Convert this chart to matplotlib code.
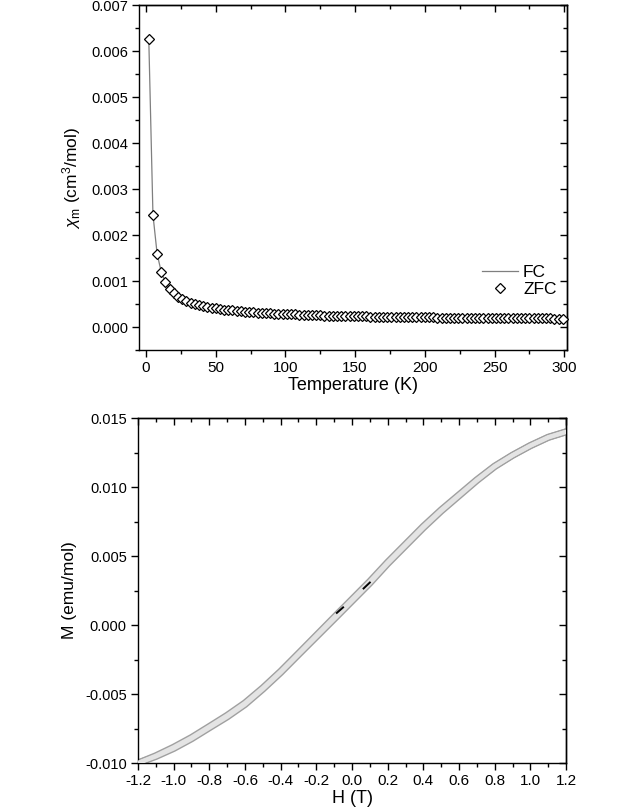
import matplotlib
matplotlib.use("Agg")
import matplotlib.pyplot as plt
import numpy as np
from matplotlib.ticker import MultipleLocator, FormatStrFormatter

plt.rcParams['font.family'] = ['Liberation Sans', 'DejaVu Sans']
plt.rcParams['mathtext.fontset'] = 'custom'
plt.rcParams['mathtext.rm'] = 'Liberation Sans'
plt.rcParams['mathtext.it'] = 'Liberation Sans:italic'

# susceptibility vs temperature
temp = [2, 5, 8, 11, 14, 17, 20, 23, 26, 29, 32, 35, 38, 41, 44, 47, 50, 53,
        56, 59, 62, 65, 68, 71, 74, 77, 80, 83, 86, 89, 92, 95, 98, 101, 104,
        107, 110, 113, 116, 119, 122, 125, 128, 131, 134, 137, 140, 143, 146,
        149, 152, 155, 158, 161, 164, 167, 170, 173, 176, 179, 182, 185, 188,
        191, 194, 197, 200, 203, 206, 209, 212, 215, 218, 221, 224, 227, 230,
        233, 236, 239, 242, 245, 248, 251, 254, 257, 260, 263, 266, 269, 272,
        275, 278, 281, 284, 287, 290, 293, 296, 299]
chi = [0.00627, 0.00244, 0.00159, 0.00119, 0.00097, 0.00083, 0.00073, 0.00066,
       0.00061, 0.00056, 0.00052, 0.00049, 0.00047, 0.00045, 0.00043, 0.00042,
       0.00041, 0.00039, 0.00038, 0.00037, 0.00036, 0.00035, 0.00034, 0.00033,
       0.00033, 0.00032, 0.00031, 0.00031, 0.00030, 0.00030, 0.00029, 0.00029,
       0.00028, 0.00028, 0.000275, 0.000272, 0.000268, 0.000265, 0.000262,
       0.000259, 0.000256, 0.000253, 0.000250, 0.000248, 0.000245, 0.000243,
       0.000241, 0.000239, 0.000237, 0.000235, 0.000233, 0.000231, 0.000229,
       0.000228, 0.000226, 0.000224, 0.000223, 0.000221, 0.000220, 0.000218,
       0.000217, 0.000216, 0.000214, 0.000213, 0.000212, 0.000211, 0.000209,
       0.000208, 0.000207, 0.000206, 0.000205, 0.000204, 0.000203, 0.000202,
       0.000201, 0.000200, 0.000199, 0.000198, 0.000197, 0.000197, 0.000196,
       0.000195, 0.000194, 0.000193, 0.000193, 0.000192, 0.000191, 0.000190,
       0.000190, 0.000189, 0.000188, 0.000188, 0.000187, 0.000186, 0.000186,
       0.000185, 0.000185, 0.000184, 0.000183, 0.000183]

# M(H) loop, two sweep branches
field = [-1.2, -1.1, -1.0, -0.9, -0.8, -0.7, -0.6, -0.5, -0.4, -0.3, -0.2,
         -0.1, 0.0, 0.1, 0.2, 0.3, 0.4, 0.5, 0.6, 0.7, 0.8, 0.9, 1.0, 1.1, 1.2]
m_down = [-0.0100, -0.00947, -0.00885, -0.00815, -0.00735, -0.00654,
          -0.00564, -0.00455, -0.00335, -0.00205, -0.00074, 0.00057, 0.00187,
          0.00317, 0.00456, 0.00586, 0.00716, 0.00835, 0.00944, 0.01053,
          0.01152, 0.01231, 0.01301, 0.01361, 0.0140]
m_up = [-0.0100, -0.00953, -0.00895, -0.00825, -0.00745, -0.00666,
        -0.00576, -0.00465, -0.00345, -0.00215, -0.00086, 0.00043, 0.00173,
        0.00303, 0.00444, 0.00574, 0.00704, 0.00825, 0.00936, 0.01047,
        0.01148, 0.01229, 0.01299, 0.01359, 0.0140]
# short black bits visible between the markers near zero
black_h = [-0.085, -0.05, np.nan, 0.065, 0.10]
black_m = [0.00088, 0.00128, np.nan, 0.00265, 0.00308]

fig = plt.figure(figsize=(6.4, 8.1), dpi=100)
ax1 = fig.add_axes([0.2172, 0.5679, 0.6688, 0.4259])
ax2 = fig.add_axes([0.2156, 0.0580, 0.6688, 0.4259])


def style_axes(ax, xmaj, xmin, ymaj, ymin, xfmt, yfmt):
    for s in ax.spines.values():
        s.set_linewidth(1.0)
    ax.xaxis.set_major_locator(MultipleLocator(xmaj))
    ax.xaxis.set_minor_locator(MultipleLocator(xmin))
    ax.yaxis.set_major_locator(MultipleLocator(ymaj))
    ax.yaxis.set_minor_locator(MultipleLocator(ymin))
    ax.xaxis.set_major_formatter(FormatStrFormatter(xfmt))
    ax.yaxis.set_major_formatter(FormatStrFormatter(yfmt))
    ax.tick_params(which='major', direction='out', length=5, width=1.0,
                   labelsize=10.5, pad=3)
    ax.tick_params(axis='x', labelsize=11)
    ax.tick_params(which='minor', direction='out', length=3, width=1.0)
    # inward ticks on top / right
    top = ax.secondary_xaxis('top')
    right = ax.secondary_yaxis('right')
    top.xaxis.set_major_locator(MultipleLocator(xmaj))
    top.xaxis.set_minor_locator(MultipleLocator(xmin))
    right.yaxis.set_major_locator(MultipleLocator(ymaj))
    right.yaxis.set_minor_locator(MultipleLocator(ymin))
    for sec in (top, right):
        sec.tick_params(which='major', direction='in', length=5, width=1.0)
        sec.tick_params(which='minor', direction='in', length=3, width=1.0)
        sec.tick_params(labeltop=False, labelright=False)
        for s in sec.spines.values():
            s.set_linewidth(1.0)


# top panel
ax1.plot(temp, chi, color='#7f7f7f', lw=0.9, label='FC', zorder=2)
ax1.plot(temp, chi, ls='none', marker='D', ms=5.6, mfc='white', mec='black',
         mew=0.9, label='ZFC', zorder=3, clip_on=False)
ax1.set_xlim(-5, 302)
ax1.set_ylim(-0.0005, 0.007)
style_axes(ax1, 50, 25, 0.001, 0.0005, '%d', '%.3f')
ax1.set_xlabel('Temperature (K)', fontsize=13, labelpad=1)
ax1.set_ylabel(r'$\chi_\mathrm{m}$ (cm$^3$/mol)', fontsize=12.5, labelpad=6)
ax1.legend(loc='center right', bbox_to_anchor=(1.012, 0.2), frameon=False,
           fontsize=12.5, handlelength=2.05, handletextpad=0.3,
           labelspacing=0.15)

# bottom panel
for m in (m_down, m_up):
    ax2.plot(field, m, color='#a0a0a0', lw=5.0, solid_capstyle='round',
             zorder=2)
for m in (m_down, m_up):
    ax2.plot(field, m, color='#e4e4e4', lw=3.0, solid_capstyle='round',
             zorder=3)
ax2.plot(black_h, black_m, color='black', lw=1.4, zorder=4)
ax2.set_xlim(-1.2, 1.2)
ax2.set_ylim(-0.010, 0.015)
style_axes(ax2, 0.2, 0.1, 0.005, 0.0025, '%.1f', '%.3f')
ax2.set_xlabel('H (T)', fontsize=13, labelpad=1)
ax2.set_ylabel('M (emu/mol)', fontsize=12.5, labelpad=6)

fig.savefig('out.png', dpi=100)
